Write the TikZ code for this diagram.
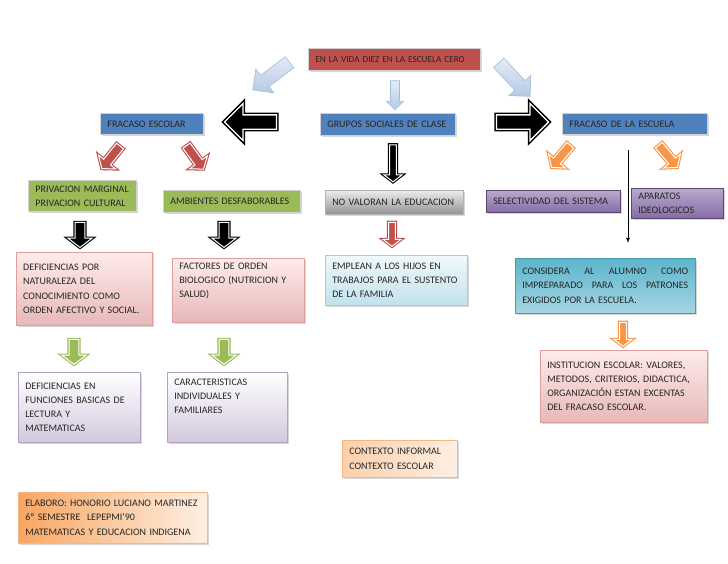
\documentclass[tikz,border=0pt]{standalone}
\usepackage{fontspec}
\setmainfont{Carlito}
\usetikzlibrary{shapes.arrows,shadows}
\definecolor{ofRojo}{HTML}{C0504D}
\definecolor{ofAzul}{HTML}{4F81BD}
\definecolor{ofVerde}{HTML}{9BBB59}
\definecolor{ofMorado}{HTML}{8064A2}
\definecolor{ofNaranja}{HTML}{F79646}
\definecolor{ofTurquesa}{HTML}{4BACC6}
\definecolor{paleA}{HTML}{E4ECF6}
\definecolor{paleB}{HTML}{B4C9E4}
\definecolor{paleC}{HTML}{A3BCDD}
\tikzset{
  caja/.style={rectangle, anchor=north west, inner xsep=7pt, inner ysep=3pt, align=left, text=black!85,
    font=\fontsize{10}{14.3}\selectfont, drop shadow={shadow xshift=1.6pt, shadow yshift=-1.6pt, opacity=.3}},
  plana/.style={caja, fill=#1, draw=white!82!black, line width=.9pt},
  rosa/.style={caja, top color=red!8, bottom color=ofRojo!40, draw=ofRojo!55, line width=.5pt},
  lila/.style={caja, top color=white, bottom color=ofMorado!35, draw=ofMorado!60, line width=.5pt},
  celeste/.style={caja, top color=ofTurquesa!8, bottom color=ofTurquesa!35, draw=ofTurquesa!55, line width=.5pt},
  turquesa/.style={caja, top color=ofTurquesa!90, bottom color=ofTurquesa!50, draw=ofTurquesa!90!black, line width=.5pt},
  morada/.style={caja, top color=ofMorado!55, bottom color=ofMorado!95, draw=ofMorado!70!black, line width=.5pt},
  gris/.style={caja, top color=gray!15, bottom color=gray!85, draw=gray!60, line width=.5pt},
  naranja/.style={caja, left color=ofNaranja!85, right color=ofNaranja!15, draw=ofNaranja!70, line width=.5pt},
  hueca/.style={single arrow, draw=#1, fill=#1, double=white, double distance=1pt, line width=1.1pt,
    inner sep=3.5pt, minimum height=24pt, single arrow head extend=6pt, single arrow tip angle=105},
  palida/.style={single arrow, top color=paleA, bottom color=paleB, draw=paleC, line width=.6pt}
}
\begin{document}
\begin{tikzpicture}[x=1pt,y=-1pt]
\useasboundingbox (0,0) rectangle (728,563);
\fill[white] (0,0) rectangle (728,563);
% cajas
\node[plana=ofRojo, font=\fontsize{9.2}{14.3}\selectfont, text width=158pt, minimum height=22pt] (titulo) at (308,48) {EN LA VIDA DIEZ EN LA ESCUELA CERO};
\node[plana=ofAzul, text width=121pt, minimum height=22pt] (grupos) at (320,113) {GRUPOS SOCIALES DE CLASE};
\node[plana=ofAzul, text width=89pt, minimum height=21pt] (fescolar) at (100,113) {FRACASO ESCOLAR};
\node[plana=ofAzul, text width=131pt, minimum height=21pt] (fescuela) at (562,113) {FRACASO DE LA ESCUELA};
\node[plana=ofVerde, text width=94pt, minimum height=31pt] (privacion) at (28,180) {PRIVACION MARGINAL\\PRIVACION CULTURAL};
\node[plana=ofVerde, text width=123pt, minimum height=22pt] (ambientes) at (163,190) {AMBIENTES DESFABORABLES};
\node[gris, text width=124pt, minimum height=24pt] (novaloran) at (325,190) {NO VALORAN LA EDUCACION};
\node[morada, text width=120pt, minimum height=22pt] (selectividad) at (486,190) {SELECTIVIDAD DEL SISTEMA};
\node[morada, text width=78pt, minimum height=30pt] (aparatos) at (631,188) {APARATOS\\IDEOLOGICOS};
\node[rosa, text width=122pt, minimum height=73pt] (deficiencias) at (16,252) {DEFICIENCIAS POR\\NATURALEZA DEL\\CONOCIMIENTO COMO\\ORDEN AFECTIVO Y SOCIAL.};
\node[rosa, text width=118pt, text height=8pt, text depth=50pt] (factores) at (172,258) {FACTORES DE ORDEN\\BIOLOGICO (NUTRICION Y\\SALUD)};
\node[celeste, text width=128pt, minimum height=50pt] (emplean) at (325,255) {EMPLEAN A LOS HIJOS EN\\TRABAJOS PARA EL SUSTENTO\\DE LA FAMILIA};
\node[turquesa, text width=166pt, minimum height=55pt] (considera) at (515,258) {CONSIDERA\hfill AL\hfill ALUMNO\hfill COMO\\IMPREPARADO\hfill PARA\hfill LOS\hfill PATRONES\\EXIGIDOS POR LA ESCUELA.};
\node[rosa, text width=153pt, minimum height=72pt] (institucion) at (540,350) {INSTITUCION ESCOLAR: VALORES,\\METODOS, CRITERIOS, DIDACTICA,\\ORGANIZACIÓN ESTAN EXCENTAS\\DEL FRACASO ESCOLAR.};
\node[lila, text width=108pt, minimum height=70pt] (funciones) at (18,372) {DEFICIENCIAS EN\\FUNCIONES BASICAS DE\\LECTURA Y\\MATEMATICAS};
\node[lila, text width=106pt, text height=10pt, text depth=54pt] (caracteristicas) at (167,372) {CARACTERISTICAS\\INDIVIDUALES Y\\FAMILIARES};
\node[naranja, left color=ofNaranja!45, text width=101pt, minimum height=37pt] (contexto) at (342,440) {CONTEXTO INFORMAL\\CONTEXTO ESCOLAR};
\node[naranja, text width=175pt, minimum height=51pt] (elaboro) at (18,492) {ELABORO: HONORIO LUCIANO MARTINEZ\\6º SEMESTRE \ LEPEPMI’90\\MATEMATICAS Y EDUCACION INDIGENA};
% flechas
\node[palida, rotate=-143, minimum height=46pt, inner sep=6.7pt, single arrow head extend=8pt] (palidaA) at (274,74) {};
\node[palida, rotate=-90, minimum height=29pt, inner sep=4.2pt, single arrow head extend=4pt] (palidaB) at (395,93) {};
\node[palida, rotate=-47, minimum height=46pt, inner sep=6.7pt, single arrow head extend=8pt] (palidaC) at (512,77) {};
\node[hueca=black, rotate=180, line width=1.5pt, double distance=1.3pt, minimum height=52pt, inner sep=6.4pt, single arrow head extend=11.5pt, single arrow tip angle=90] (negroIzq) at (254,122) {};
\node[hueca=black, line width=1.5pt, double distance=1.3pt, minimum height=52pt, inner sep=6.4pt, single arrow head extend=11.5pt, single arrow tip angle=90] (negroDer) at (519,122) {};
\node[hueca=black, rotate=-90, minimum height=37pt, inner sep=2.9pt, single arrow head extend=5.5pt] (negroA) at (393,162) {};
\foreach \n/\x/\y/\a/\c in {rojoA/112/156/-129/ofRojo, rojoB/194/156/-54/ofRojo, naranjaA/562/155/-130/ofNaranja, naranjaB/667/155/-50/ofNaranja}
  \node[hueca=\c, rotate=\a, minimum height=29pt, inner sep=3.9pt, single arrow head extend=6.5pt] (\n) at (\x,\y) {};
\foreach \n/\x/\y/\c in {negroB/80/233/black, negroC/224/233/black, verdeA/74/350/ofVerde, verdeB/224/350/ofVerde}
  \node[hueca=\c, rotate=-90, minimum height=25pt, inner sep=4.4pt, single arrow head extend=7pt] (\n) at (\x,\y) {};
\foreach \n/\x/\y/\c in {rojoC/392/233/ofRojo, naranjaC/623/333/ofNaranja}
  \node[hueca=\c, rotate=-90, minimum height=24pt, inner sep=2.9pt, single arrow head extend=5.5pt] (\n) at (\x,\y) {};
\coordinate (lineaA) at (628,150);
\coordinate (lineaB) at (628,243);
\draw[-latex, line width=.8pt] (lineaA) -- (lineaB);
\end{tikzpicture}
\end{document}
